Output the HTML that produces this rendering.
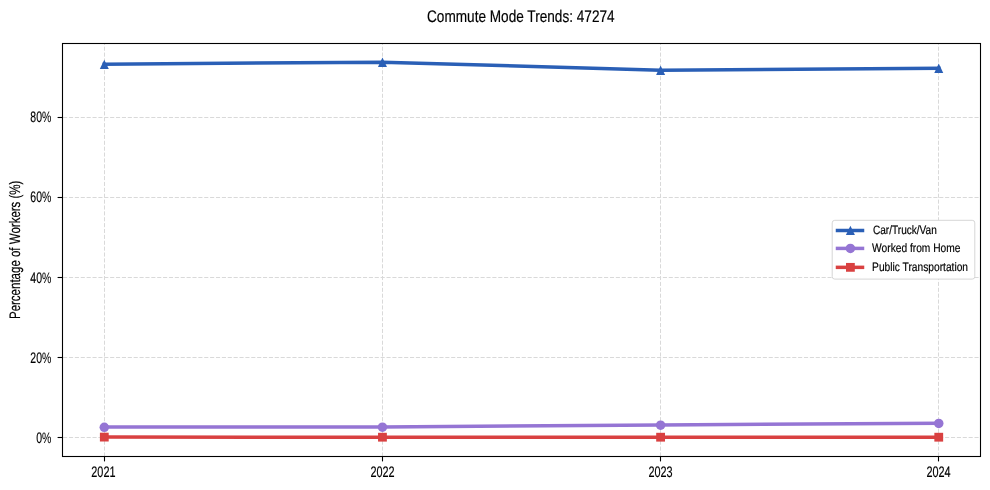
<!DOCTYPE html>
<html lang="en"><head><meta charset="utf-8"><title>Commute Mode Trends: 47274</title>
<style>html,body{margin:0;padding:0;background:#fff}svg{display:block}</style></head>
<body>
<svg width="990" height="490" viewBox="0 0 990 490" font-family="'Liberation Sans', sans-serif" fill="#000" text-rendering="geometricPrecision">
<rect width="990" height="490" fill="#fff"/>
<g stroke="#d9d9d9" stroke-width="1" stroke-dasharray="4.1 1.78" fill="none">
<path d="M104.5 456.5V43.5"/>
<path d="M382.5 456.5V43.5"/>
<path d="M660.5 456.5V43.5"/>
<path d="M938.5 456.5V43.5"/>
<path d="M62.5 437.50H980.5" stroke-dashoffset="-0.6"/>
<path d="M62.5 357.50H980.5" stroke-dashoffset="-0.6"/>
<path d="M62.5 277.50H980.5" stroke-dashoffset="-0.6"/>
<path d="M62.5 197.50H980.5" stroke-dashoffset="-0.6"/>
<path d="M62.5 117.50H980.5" stroke-dashoffset="-0.6"/>
</g>
<g stroke="#000" stroke-width="1.1" fill="none">
<path d="M104.5 456.5v4.9"/>
<path d="M382.5 456.5v4.9"/>
<path d="M660.5 456.5v4.9"/>
<path d="M938.5 456.5v4.9"/>
<path d="M62.5 437.50h-4.9"/>
<path d="M62.5 357.50h-4.9"/>
<path d="M62.5 277.50h-4.9"/>
<path d="M62.5 197.50h-4.9"/>
<path d="M62.5 117.50h-4.9"/>
</g>
<g fill="none" stroke-width="3.5" stroke-linejoin="round" stroke-linecap="square">
<polyline points="104.3,64.25 382.45,62.15 660.6,70.15 938.75,68.15" stroke="#2a5fb6"/>
</g>
<g fill="#2a5fb6">
<path d="M104.3 59.70L99.80 69.00H108.80Z"/>
<path d="M382.45 57.60L377.95 66.90H386.95Z"/>
<path d="M660.6 65.60L656.10 74.90H665.10Z"/>
<path d="M938.75 63.60L934.25 72.90H943.25Z"/>
</g>
<polyline points="104.3,427.05 382.45,426.95 660.6,424.95 938.75,423.15" fill="none" stroke="#9575d4" stroke-width="3.5" stroke-linejoin="round" stroke-linecap="square"/>
<g fill="#9575d4">
<circle cx="104.3" cy="427.3" r="4.75"/>
<circle cx="382.45" cy="427.2" r="4.75"/>
<circle cx="660.6" cy="425.2" r="4.75"/>
<circle cx="938.75" cy="423.4" r="4.75"/>
</g>
<polyline points="104.3,437.10 382.45,437.20 660.6,437.20 938.75,437.20" fill="none" stroke="#d94141" stroke-width="3.5" stroke-linejoin="round" stroke-linecap="square"/>
<g fill="#d94141">
<rect x="99.90" y="432.70" width="8.8" height="8.8"/>
<rect x="378.05" y="432.80" width="8.8" height="8.8"/>
<rect x="656.20" y="432.80" width="8.8" height="8.8"/>
<rect x="934.35" y="432.80" width="8.8" height="8.8"/>
</g>
<rect x="62.5" y="43.5" width="918.00" height="413.00" fill="none" stroke="#000" stroke-width="1.1"/>
<text transform="translate(520.8 22) scale(0.811 1)" font-size="16.8" text-anchor="middle" stroke="#000" stroke-width="0.18">Commute Mode Trends: 47274</text>
<text transform="translate(103.4 477) scale(0.716 1)" font-size="15.2" text-anchor="middle" stroke="#000" stroke-width="0.18">2021</text>
<text transform="translate(382.5 477) scale(0.716 1)" font-size="15.2" text-anchor="middle" stroke="#000" stroke-width="0.18">2022</text>
<text transform="translate(660.5 477) scale(0.716 1)" font-size="15.2" text-anchor="middle" stroke="#000" stroke-width="0.18">2023</text>
<text transform="translate(938.5 477) scale(0.716 1)" font-size="15.2" text-anchor="middle" stroke="#000" stroke-width="0.18">2024</text>
<text transform="translate(51.3 443.0) scale(0.69 1)" font-size="15.2" text-anchor="end" stroke="#000" stroke-width="0.18">0<tspan stroke-width="0.1">%</tspan></text>
<text transform="translate(51.3 363.0) scale(0.69 1)" font-size="15.2" text-anchor="end" stroke="#000" stroke-width="0.18">20<tspan stroke-width="0.1">%</tspan></text>
<text transform="translate(51.3 283.0) scale(0.69 1)" font-size="15.2" text-anchor="end" stroke="#000" stroke-width="0.18">40<tspan stroke-width="0.1">%</tspan></text>
<text transform="translate(51.3 202.0) scale(0.69 1)" font-size="15.2" text-anchor="end" stroke="#000" stroke-width="0.18">60<tspan stroke-width="0.1">%</tspan></text>
<text transform="translate(51.3 122.0) scale(0.69 1)" font-size="15.2" text-anchor="end" stroke="#000" stroke-width="0.18">80<tspan stroke-width="0.1">%</tspan></text>
<text transform="translate(19.6 249.8) rotate(-90) scale(0.757 1)" font-size="15.2" text-anchor="middle" stroke="#000" stroke-width="0.18">Percentage of Workers (%)</text>
<rect x="832.2" y="220.3" width="142.6" height="58.8" rx="2.6" fill="#fff" fill-opacity="0.96" stroke="#d6d6d6" stroke-width="1"/>
<path d="M837.5 230.5H862.5" stroke="#2a5fb6" stroke-width="3.5" stroke-linecap="square" fill="none"/>
<path d="M837.5 248.4H862.5" stroke="#9575d4" stroke-width="3.5" stroke-linecap="square" fill="none"/>
<path d="M837.5 267.35H862.5" stroke="#d94141" stroke-width="3.5" stroke-linecap="square" fill="none"/>
<g fill="#2a5fb6"><path d="M850.4 225.70L845.90 235.00H854.90Z"/></g>
<circle cx="850.4" cy="248.4" r="4.75" fill="#9575d4"/>
<rect x="846.0" y="262.95000000000005" width="8.8" height="8.8" fill="#d94141"/>
<text transform="translate(873.0 234) scale(0.826 1)" font-size="12.2" text-anchor="start" stroke="#000" stroke-width="0.18">Car/Truck/Van</text>
<text transform="translate(872.1 252) scale(0.838 1)" font-size="12.2" text-anchor="start" stroke="#000" stroke-width="0.18">Worked from Home</text>
<text transform="translate(872.1 271) scale(0.838 1)" font-size="12.2" text-anchor="start" stroke="#000" stroke-width="0.18">Public Transportation</text>
</svg>
</body></html>
